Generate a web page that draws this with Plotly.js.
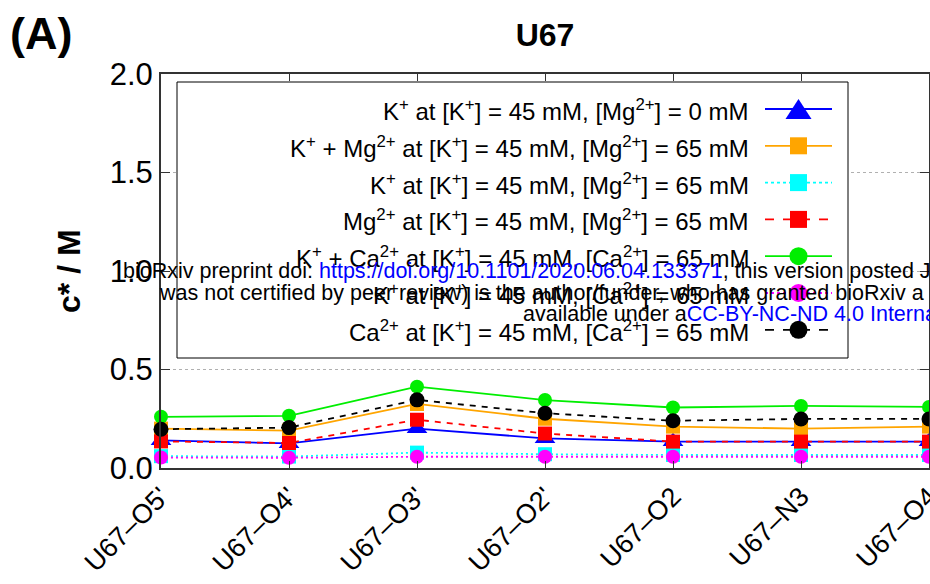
<!DOCTYPE html>
<html>
<head>
<meta charset="utf-8">
<script src="https://cdn.plot.ly/plotly-3.0.1.min.js"></script>
<style>html,body{margin:0;padding:0;background:#fff;}#chart{width:930px;height:584px;}</style>
</head>
<body>
<div id="chart"></div>
<script>
// ---- data ----
const categories = ["U67–O5'", "U67–O4'", "U67–O3'", "U67–O2'", "U67–O2", "U67–N3", "U67–O4"];
const kAtK_Mg0      = [0.140, 0.125, 0.200, 0.150, 0.134, 0.134, 0.134];
const kPlusMg       = [0.200, 0.190, 0.325, 0.250, 0.210, 0.200, 0.210];
const kAtK_Mg65     = [0.060, 0.058, 0.078, 0.070, 0.066, 0.066, 0.066];
const mgAtK_Mg65    = [0.135, 0.127, 0.245, 0.175, 0.134, 0.134, 0.134];
const kPlusCa       = [0.260, 0.265, 0.413, 0.345, 0.307, 0.315, 0.310];
const kAtK_Ca65     = [0.053, 0.052, 0.057, 0.057, 0.057, 0.057, 0.057];
const caAtK_Ca65    = [0.197, 0.205, 0.346, 0.278, 0.240, 0.249, 0.249];
const yTicks = [0, 0.5, 1.0, 1.5, 2.0];
const yTickText = ["0.0", "0.5", "1.0", "1.5", "2.0"];

const seriesNames = [
  "K<sup>+</sup> at [K<sup>+</sup>] = 45 mM, [Mg<sup>2+</sup>] = 0 mM",
  "K<sup>+</sup> + Mg<sup>2+</sup> at [K<sup>+</sup>] = 45 mM, [Mg<sup>2+</sup>] = 65 mM",
  "K<sup>+</sup> at [K<sup>+</sup>] = 45 mM, [Mg<sup>2+</sup>] = 65 mM",
  "Mg<sup>2+</sup> at [K<sup>+</sup>] = 45 mM, [Mg<sup>2+</sup>] = 65 mM",
  "K<sup>+</sup> + Ca<sup>2+</sup> at [K<sup>+</sup>] = 45 mM, [Ca<sup>2+</sup>] = 65 mM",
  "K<sup>+</sup> at [K<sup>+</sup>] = 45 mM, [Ca<sup>2+</sup>] = 65 mM",
  "Ca<sup>2+</sup> at [K<sup>+</sup>] = 45 mM, [Ca<sup>2+</sup>] = 65 mM"
];
const seriesValues = [kAtK_Mg0, kPlusMg, kAtK_Mg65, mgAtK_Mg65, kPlusCa, kAtK_Ca65, caAtK_Ca65];
const seriesColors = ["#0000ff", "#ffa500", "#00ffff", "#ff0000", "#00ee00", "#ff00ff", "#000000"];
const seriesDash   = ["solid", "solid", "2px,3px", "6px,6px", "solid", "2px,3px", "6px,6px"];
const seriesSymbol = ["triangle-up", "square", "square", "square", "circle", "circle", "circle"];
const seriesSize   = [18, 14, 14, 14, 14, 14, 15];

// ---- layout geometry (pixels) ----
const W = 930, H = 584;
const L = 161, R = 929, T = 74, B = 468;
const px = x => (x - L) / (R - L);
const py = y => (B - y) / (B - T);

const FONT = "Liberation Sans, Arial, sans-serif";

const traces = seriesValues.map((vals, i) => ({
  type: "scatter",
  mode: "lines+markers",
  x: categories,
  y: vals,
  name: seriesNames[i],
  cliponaxis: false,
  line: {color: seriesColors[i], width: 1.8, dash: seriesDash[i]},
  marker: {color: seriesColors[i], symbol: seriesSymbol[i], size: seriesSize[i], line: {width: 0}},
  showlegend: false
}));

// manual legend (text right-aligned, sample on the right, as in the reference)
const shapes = [];
const annotations = [];
shapes.push({type: "rect", xref: "paper", yref: "paper", layer: "above",
  x0: px(177), x1: px(848), y0: py(358), y1: py(82),
  line: {color: "#000", width: 1}, fillcolor: "#fff"});
const rowY0 = 109, rowStep = 36.8;
const sx0 = 765, sx1 = 832, sxm = 798.5;
seriesNames.forEach((nm, i) => {
  const y = rowY0 + rowStep * i;
  annotations.push({xref: "paper", yref: "paper", x: px(751), y: py(y + 1), xanchor: "right", yanchor: "middle",
    text: nm, showarrow: false, font: {family: FONT, size: 24, color: "#000"}});
  shapes.push({type: "line", xref: "paper", yref: "paper", layer: "above",
    x0: px(sx0), x1: px(sx1), y0: py(y), y1: py(y),
    line: {color: seriesColors[i], width: 1.8, dash: seriesDash[i] === "solid" ? "solid" : (seriesDash[i] === "2px,3px" ? "dot" : "dash")}});
  const sym = seriesSymbol[i];
  if (sym === "triangle-up") {
    const hw = 13, hh = 10;
    shapes.push({type: "path", xref: "paper", yref: "paper", layer: "above",
      path: `M ${px(sxm - hw)} ${py(y + hh)} L ${px(sxm + hw)} ${py(y + hh)} L ${px(sxm)} ${py(y - hh)} Z`,
      fillcolor: seriesColors[i], line: {width: 0}});
  } else if (sym === "square") {
    const h = 8.5;
    shapes.push({type: "rect", xref: "paper", yref: "paper", layer: "above",
      x0: px(sxm - h), x1: px(sxm + h), y0: py(y + h), y1: py(y - h),
      fillcolor: seriesColors[i], line: {width: 0}});
  } else {
    const r = 9;
    shapes.push({type: "circle", xref: "paper", yref: "paper", layer: "above",
      x0: px(sxm - r), x1: px(sxm + r), y0: py(y + r), y1: py(y - r),
      fillcolor: seriesColors[i], line: {width: 0}});
  }
});

// panel label and axis title
annotations.push({xref: "paper", yref: "paper", x: px(41), y: py(34), xanchor: "center", yanchor: "middle",
  text: "<b>(A)</b>", showarrow: false, font: {family: FONT, size: 45, color: "#000"}});
annotations.push({xref: "paper", yref: "paper", x: px(69), y: py(271), xanchor: "center", yanchor: "middle",
  textangle: -90, text: "<b>c* / M</b>", showarrow: false, font: {family: FONT, size: 32, color: "#000"}});

// bioRxiv watermark text
const wmFont = {family: FONT, size: 21.5, color: "#000"};
annotations.push({xref: "paper", yref: "paper", x: px(121), y: py(271), xanchor: "left", yanchor: "middle", showarrow: false,
  font: wmFont, text: "bioRxiv preprint doi: <span style='color:#0000ff'>https://doi.org/10.1101/2020.06.04.133371</span>, this version posted June 5, 2020. The copyright holder"});
annotations.push({xref: "paper", yref: "paper", x: px(157), y: py(293), xanchor: "left", yanchor: "middle", showarrow: false,
  font: wmFont, text: "was not certified by peer review) is the author/funder, who has granted bioRxiv a license"});
annotations.push({xref: "paper", yref: "paper", x: px(521), y: py(314), xanchor: "left", yanchor: "middle", showarrow: false,
  font: wmFont, text: "available under a<span style='color:#0000ff'>CC-BY-NC-ND 4.0 International license</span>"});

const layout = {
  width: W, height: H,
  margin: {l: L, r: W - R, t: T, b: H - B, pad: 0},
  paper_bgcolor: "#fff", plot_bgcolor: "#fff",
  font: {family: FONT, color: "#000"},
  title: {text: "<b>U67</b>", x: 0.5, xref: "paper", y: 1 - 35 / H, yanchor: "middle", font: {family: FONT, size: 32, color: "#000"}},
  xaxis: {
    type: "category", range: [0, categories.length - 1],
    showgrid: false, zeroline: false,
    showline: true, linecolor: "#333", linewidth: 2, mirror: "ticks",
    ticks: "inside", ticklen: 7, tickcolor: "#333", tickwidth: 1,
    tickangle: -45, tickfont: {family: FONT, size: 27, color: "#000"}
  },
  yaxis: {
    range: [0, 2], tickvals: yTicks, ticktext: yTickText,
    showgrid: true, gridcolor: "#b0b0b0", griddash: "dot", gridwidth: 1,
    zeroline: false,
    showline: true, linecolor: "#333", linewidth: 2, mirror: "ticks",
    ticks: "inside", ticklen: 9, tickcolor: "#333", tickwidth: 1,
    tickfont: {family: FONT, size: 31, color: "#000"}
  },
  shapes: shapes,
  annotations: annotations,
  showlegend: false
};

Plotly.newPlot("chart", traces, layout, {displayModeBar: false, staticPlot: true});
</script>
</body>
</html>
